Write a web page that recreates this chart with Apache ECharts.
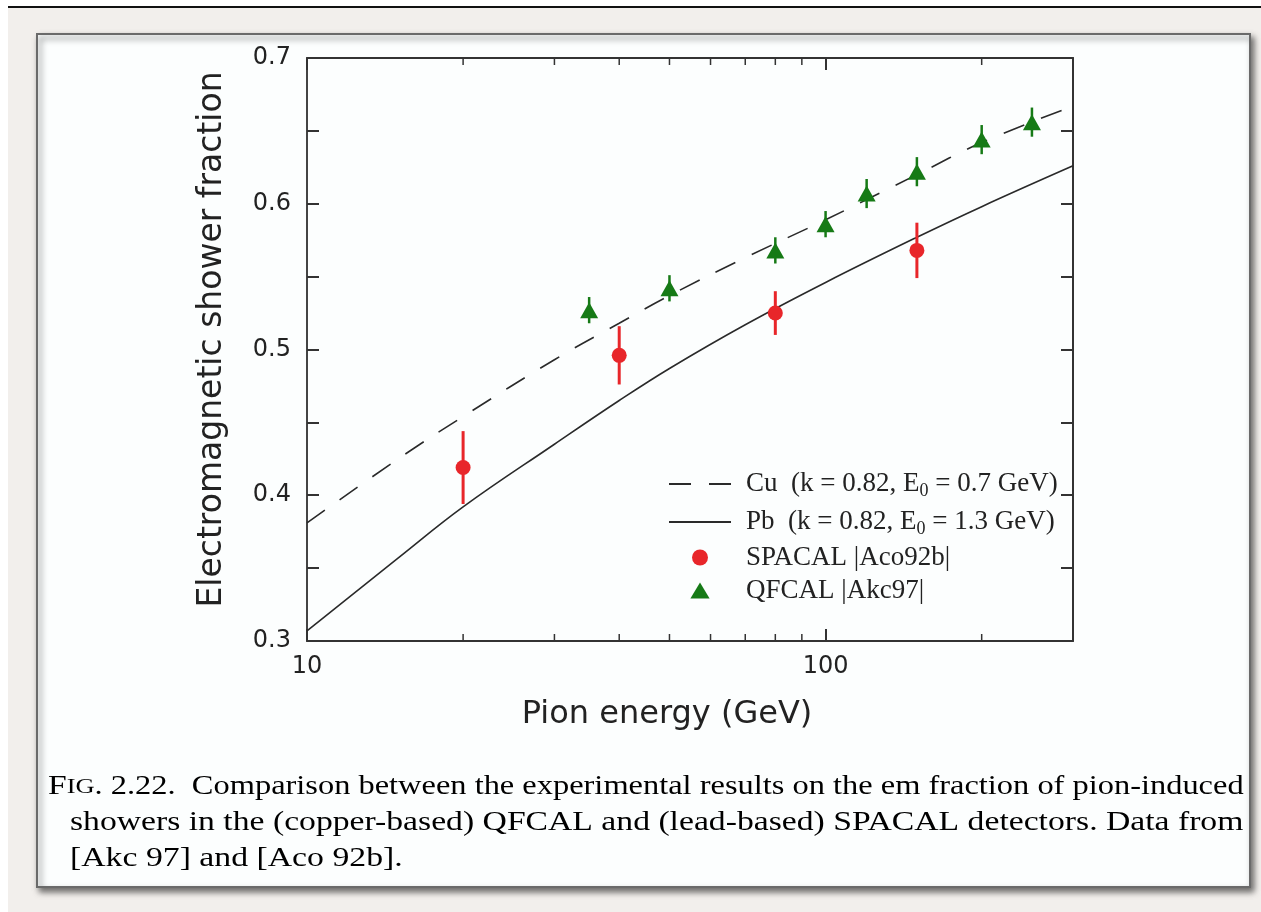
<!DOCTYPE html>
<html>
<head>
<meta charset="utf-8">
<script src="https://cdn.jsdelivr.net/npm/echarts@6/dist/echarts.min.js"></script>
<style>
html,body{margin:0;padding:0;background:#ffffff;}
#chart{width:1261px;height:912px;}
</style>
</head>
<body>
<div id="chart"></div>
<script>
// ---- data ----
var curveEnergies = [10, 15, 20, 30, 40, 50, 70, 100, 150, 200, 300];
var cuCurve = [0.381, 0.425, 0.454, 0.493, 0.518, 0.537, 0.563, 0.589, 0.620, 0.642, 0.667];
var pbCurve = [0.307, 0.357, 0.392, 0.435, 0.465, 0.487, 0.517, 0.546, 0.577, 0.598, 0.626];

var spacalEnergy = [20, 40, 80, 150];
var spacalValue  = [0.419, 0.496, 0.525, 0.568];
var spacalError  = [0.025, 0.020, 0.015, 0.019];

var qfcalEnergy = [35, 50, 80, 100, 120, 150, 200, 250];
var qfcalValue  = [0.527, 0.542, 0.568, 0.586, 0.607, 0.622, 0.644, 0.656];
var qfcalError  = [0.009, 0.009, 0.009, 0.009, 0.010, 0.010, 0.010, 0.010];

var minorTickEnergies = [20, 30, 40, 50, 60, 70, 80, 90, 200];
var xTickLabels = { 10: '10', 100: '100' };
var yTickLabels = ['0.3', '0.4', '0.5', '0.6', '0.7'];

var legendNames = ['Cu', 'Pb', 'SPACAL', 'QFCAL'];
var legendTexts = {
  'Cu': '{t|Cu  (k = 0.82, E}{s|0}{t| = 0.7 GeV)}',
  'Pb': '{t|Pb  (k = 0.82, E}{s|0}{t| = 1.3 GeV)}',
  'SPACAL': '{t|SPACAL |Aco92b|}',
  'QFCAL': '{t|QFCAL |Akc97|}'
};
var captionLines = [
  '{b|F}{c|IG}{n|. 2.22.  Comparison between the experimental results on the em fraction of pion-induced}',
  '{n|showers in the (copper-based) QFCAL and (lead-based) SPACAL detectors. Data from}',
  '{n|[Akc 97] and [Aco 92b].}'
];

// ---- build ----
function pairs(xs, ys) { return xs.map(function (x, i) { return [x, ys[i]]; }); }
function errs(xs, ys, es) { return xs.map(function (x, i) { return [x, ys[i] - es[i], ys[i] + es[i]]; }); }

var RED = '#e8262a', GREEN = '#167a16', INK = '#222222';
var SANS = 'DejaVu Sans';

function errorBarSeries(data, color, width) {
  return {
    type: 'custom', data: data, z: 3, silent: true,
    encode: { x: 0, y: [1, 2] },
    renderItem: function (params, api) {
      var p1 = api.coord([api.value(0), api.value(1)]);
      var p2 = api.coord([api.value(0), api.value(2)]);
      return { type: 'line', shape: { x1: p1[0], y1: p1[1], x2: p2[0], y2: p2[1] },
               style: { stroke: color, lineWidth: width } };
    }
  };
}

var capRich = {
  b: { fontFamily: 'Liberation Serif', fontSize: 28, color: INK },
  c: { fontFamily: 'Liberation Serif', fontSize: 22, color: INK },
  n: { fontFamily: 'Liberation Serif', fontSize: 27, color: INK }
};
function captionText(i, x, y, sx) {
  return { type: 'text', z: 5, x: x, y: y, scaleX: sx,
           style: { text: captionLines[i], rich: capRich, verticalAlign: 'middle', align: 'left' } };
}

var chart = echarts.init(document.getElementById('chart'), null, { renderer: 'canvas' });
var option = {
  backgroundColor: '#ffffff',
  animation: false,
  graphic: [
    { type: 'rect', z: -10, shape: { x: 8, y: 8, width: 1253, height: 904 }, style: { fill: '#f2efec' } },
    { type: 'line', z: -9, shape: { x1: 8, y1: 7, x2: 1261, y2: 7 }, style: { stroke: '#111', lineWidth: 2 } },
    { type: 'rect', z: -8, shape: { x: 37, y: 34, width: 1213, height: 853 },
      style: { fill: '#fcfefe', stroke: '#6a6a6a', lineWidth: 2, shadowBlur: 6, shadowOffsetX: 3, shadowOffsetY: 4, shadowColor: 'rgba(0,0,0,0.55)' } },
    captionText(0, 48, 787, 1.201),
    captionText(1, 70, 823, 1.247),
    captionText(2, 70, 859, 1.25)
  ],
  grid: { left: 307, top: 58, right: 188, bottom: 271, containLabel: false },
  legend: {
    data: [
      { name: 'Cu', itemStyle: { opacity: 0 } },
      { name: 'Pb', itemStyle: { opacity: 0 } },
      { name: 'SPACAL', icon: 'circle' },
      { name: 'QFCAL', icon: 'path://M9,0 L18,15 L0,15 Z' }
    ],
    orient: 'vertical', left: 668, top: 468, padding: 0,
    itemWidth: 62, itemHeight: 16, itemGap: 6, selectedMode: false, symbolKeepAspect: true,
    formatter: function (name) { return legendTexts[name]; },
    textStyle: {
      padding: [0, 0, 0, 10],
      rich: {
        t: { fontFamily: 'Liberation Serif', fontSize: 27, lineHeight: 26, color: INK },
        s: { fontFamily: 'Liberation Serif', fontSize: 18, lineHeight: 8, padding: [14, 0, 0, 0], color: INK }
      }
    }
  },
  xAxis: [
    { type: 'log', logBase: 10, min: 10, max: 300, position: 'bottom',
      axisLine: { show: true, lineStyle: { color: '#333', width: 2 } },
      axisTick: { show: true, inside: true, length: 12, lineStyle: { color: '#333', width: 2 } },
      axisLabel: { show: true, margin: 14, fontFamily: SANS, fontSize: 24, color: INK, showMaxLabel: false,
        formatter: function (v) { return xTickLabels[Math.round(v)] || ''; } },
      splitLine: { show: false },
      name: 'Pion energy (GeV)', nameLocation: 'middle', nameGap: 58,
      nameTextStyle: { fontFamily: SANS, fontSize: 32, color: INK, padding: [0, 46, 0, 0] } },
    { type: 'log', logBase: 10, min: 10, max: 300, position: 'top',
      axisLine: { show: true, lineStyle: { color: '#333', width: 2 } },
      axisTick: { show: true, inside: true, length: 12, lineStyle: { color: '#333', width: 2 } },
      axisLabel: { show: false }, splitLine: { show: false } }
  ],
  yAxis: [
    { type: 'value', min: 0.3, max: 0.7, interval: 0.05, position: 'left',
      axisLine: { show: true, lineStyle: { color: '#444', width: 2 } },
      axisTick: { show: true, inside: true, length: 12, lineStyle: { color: '#333', width: 2 } },
      axisLabel: { show: true, margin: 16, fontFamily: SANS, fontSize: 24, color: INK,
        formatter: function (v) {
          var k = Math.round(v * 10);
          return Math.abs(v * 10 - k) < 1e-6 ? yTickLabels[k - 3] : '';
        } },
      splitLine: { show: false },
      name: 'Electromagnetic shower fraction', nameLocation: 'middle', nameGap: 78,
      nameTextStyle: { fontFamily: SANS, fontSize: 33, color: INK, padding: [0, 0, 0, 20] } },
    { type: 'value', min: 0.3, max: 0.7, interval: 0.05, position: 'right',
      axisLine: { show: true, lineStyle: { color: '#333', width: 2 } },
      axisTick: { show: true, inside: true, length: 12, lineStyle: { color: '#333', width: 2 } },
      axisLabel: { show: false }, splitLine: { show: false } }
  ],
  series: [
    { name: 'Cu', type: 'line', data: pairs(curveEnergies, cuCurve), smooth: 0.4, symbol: 'none',
      itemStyle: { color: '#2a2a2a' },
      lineStyle: { color: '#2a2a2a', width: 1.6, type: [22, 18] }, z: 2 },
    { name: 'Pb', type: 'line', data: pairs(curveEnergies, pbCurve), smooth: 0.4, symbol: 'none',
      itemStyle: { color: '#2a2a2a' },
      lineStyle: { color: '#2a2a2a', width: 1.6 }, z: 2 },
    errorBarSeries(errs(spacalEnergy, spacalValue, spacalError), RED, 3),
    errorBarSeries(errs(qfcalEnergy, qfcalValue, qfcalError), GREEN, 2.5),
    { name: 'SPACAL', type: 'scatter', data: pairs(spacalEnergy, spacalValue), symbol: 'circle', symbolSize: 15,
      itemStyle: { color: RED, opacity: 1 }, z: 4 },
    { name: 'QFCAL', type: 'scatter', data: pairs(qfcalEnergy, qfcalValue), symbol: 'triangle', symbolSize: [18, 16],
      itemStyle: { color: GREEN, opacity: 1 }, z: 4 },
    { type: 'custom', silent: true, z: 3, data: minorTickEnergies.map(function (e) { return [e, 0.3]; }),
      encode: { x: 0, y: 1 },
      renderItem: function (params, api) {
        var p = api.coord([api.value(0), 0.3]);
        var top = params.coordSys.y, bottom = params.coordSys.y + params.coordSys.height;
        return { type: 'group', children: [
          { type: 'line', shape: { x1: p[0], y1: bottom, x2: p[0], y2: bottom - 7 }, style: { stroke: '#333', lineWidth: 1.5 } },
          { type: 'line', shape: { x1: p[0], y1: top, x2: p[0], y2: top + 7 }, style: { stroke: '#333', lineWidth: 1.5 } }
        ] };
      } }
  ]
};
chart.setOption(option);
</script>
</body>
</html>
